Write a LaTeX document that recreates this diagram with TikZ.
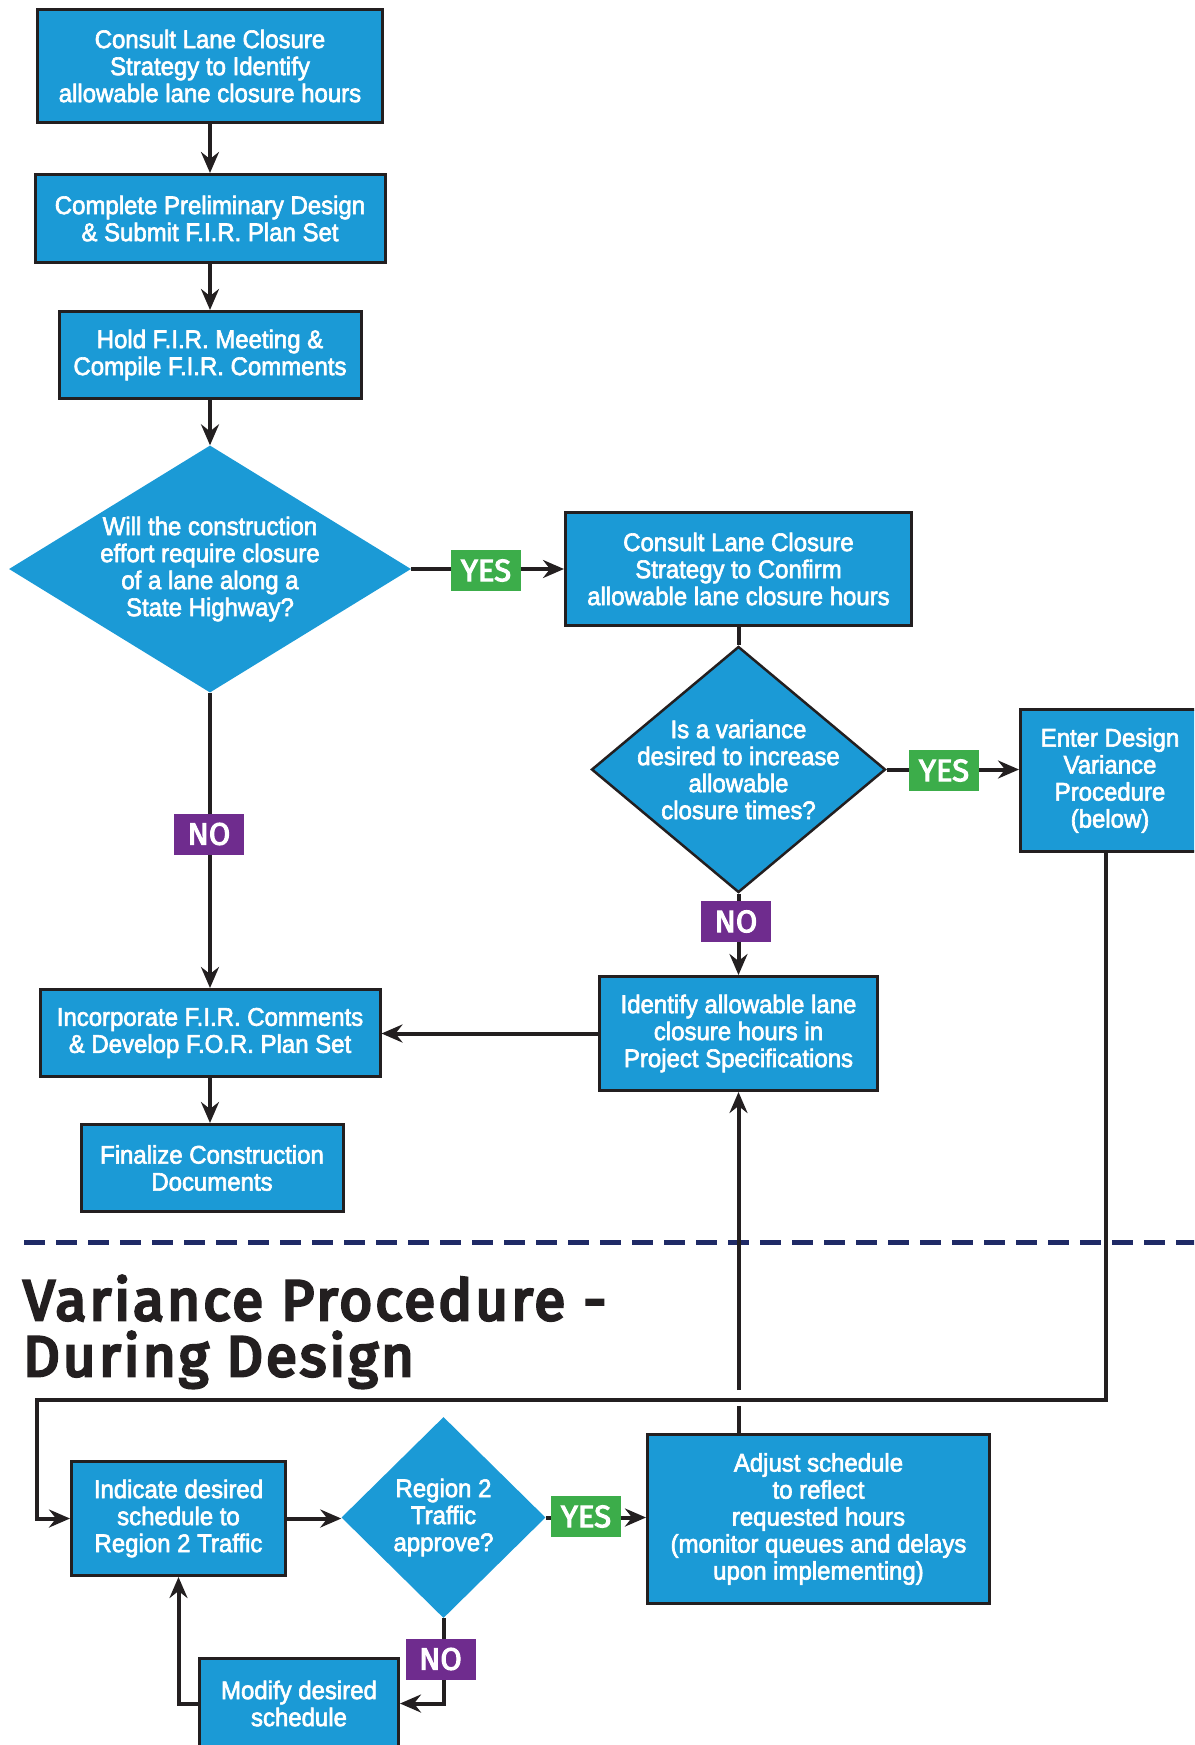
\documentclass[tikz,border=0pt]{standalone}
\usepackage{fontspec}
\setmainfont{Liberation Sans}
\newfontfamily\boxfont{Liberation Sans}[FakeStretch=0.94, FakeBold=2.5]
\newfontfamily\tagfont{Fira Sans}[FakeBold=3.5]
\newfontfamily\headfont{Fira Sans}[FakeBold=5, LetterSpace=5]
\usetikzlibrary{shapes.geometric,arrows.meta,calc}

\definecolor{boxblue}{HTML}{1B9AD6}
\definecolor{edge}{HTML}{231F20}
\definecolor{yesgreen}{HTML}{3CAD4A}
\definecolor{nopurple}{HTML}{6F2C8E}
\definecolor{navy}{HTML}{1F2A66}

\newcommand\boxtext{\boxfont\fontsize{25.5}{27}\selectfont}
\newcommand\tagtext{\tagfont\fontsize{31}{31}\selectfont}
\newcommand\headtext{\headfont\fontsize{57}{57}\selectfont}

\begin{document}
\begin{tikzpicture}[x=1pt,y=-1pt,
  stepbox/.style={draw=edge, line width=3pt, fill=boxblue, text=white,
    font=\boxtext, align=center, inner sep=0pt},
  decision/.style={diamond, fill=boxblue, draw=none, inner sep=0pt},
  qtext/.style={text=white, font=\boxtext, align=center, inner sep=0pt},
  tag/.style={text=white, font=\tagtext, inner sep=0pt,
    minimum width=70pt, minimum height=41pt},
  yestag/.style={tag, fill=yesgreen},
  notag/.style={tag, fill=nopurple},
  conn/.style={draw=edge, line width=4pt},
  arr/.style={conn, -{Stealth[length=21pt,width=18pt,inset=7pt]}},
]
\clip (0,0) rectangle (1194,1745);

% ---- design flow ----
\node[stepbox, minimum width=345pt, minimum height=113pt] (b1) at (210,66)
  {Consult Lane Closure\\Strategy to Identify\\allowable lane closure hours};
\node[stepbox, minimum width=350pt, minimum height=88pt] (b2) at (210,218.5)
  {Complete Preliminary Design\\\& Submit F.I.R. Plan Set};
\node[stepbox, minimum width=302pt, minimum height=87pt] (b3) at (210,355)
  {Hold F.I.R. Meeting \&\\Compile F.I.R. Comments};
\node[decision, minimum width=402pt, minimum height=247pt] (d1) at (210,569) {};
\node[qtext] (d1t) at (d1)
  {Will the construction\\effort require closure\\of a lane along a\\State Highway?};
\node[stepbox, minimum width=346pt, minimum height=113pt] (b4) at (738.5,569)
  {Consult Lane Closure\\Strategy to Confirm\\allowable lane closure hours};
\node[decision, draw=edge, line width=2.5pt, minimum width=294pt, minimum height=246pt] (d2) at (738.5,769.5) {};
\node[qtext] (d2t) at (d2)
  {Is a variance\\desired to increase\\allowable\\closure times?};
\node[stepbox, minimum width=179pt, minimum height=142pt] (b5) at (1110,780.5)
  {Enter Design\\Variance\\Procedure\\(below)};
\node[stepbox, minimum width=278pt, minimum height=114pt] (b6) at (738.5,1033.5)
  {Identify allowable lane\\closure hours in\\Project Specifications};
\node[stepbox, minimum width=340pt, minimum height=87pt] (b7) at (210,1033)
  {Incorporate F.I.R. Comments\\\& Develop F.O.R. Plan Set};
\node[stepbox, minimum width=262pt, minimum height=87pt] (b8) at (212,1168)
  {Finalize Construction\\Documents};

% ---- separator and heading ----
\draw[navy, line width=5pt, dash pattern=on 21pt off 11pt] (24,1242) -- (1200,1242);
\node[anchor=base west, text=edge, font=\headtext, inner sep=0pt] (title1) at (23,1320)
  {Variance Procedure -};
\node[anchor=base west, text=edge, font=\headtext, inner sep=0pt] (title2) at (23,1376)
  {During Design};

% ---- variance procedure ----
\node[stepbox, minimum width=214pt, minimum height=114pt] (b9) at (178.5,1518.5)
  {Indicate desired\\schedule to\\Region 2 Traffic};
\node[decision, minimum width=204pt, minimum height=201pt] (d3) at (443.5,1517.5) {};
\node[qtext] (d3t) at (d3) {Region 2\\Traffic\\approve?};
\node[stepbox, minimum width=342pt, minimum height=169pt] (b10) at (818.5,1519)
  {Adjust schedule\\to reflect\\requested hours\\(monitor queues and delays\\upon implementing)};
\node[stepbox, minimum width=199pt, minimum height=90pt] (b11) at (299,1703.5)
  {Modify desired\\schedule};

% ---- connectors ----
\draw[arr] (b1.south) -- (b2.north);
\draw[arr] (b2.south) -- (b3.north);
\draw[arr] (b3.south) -- (d1.north);
\draw[arr] (d1.east) -- (b4.west);
\draw[arr] (d1.south) -- (b7.north);
\draw[conn] (b4.south) -- (d2.north);
\draw[arr] (d2.east) -- (d2.east -| b5.west);
\draw[arr] (d2.south) -- (b6.north);
\draw[arr] (b6.west) -- (b6.west -| b7.east);
\draw[arr] (b7.south) -- (b7.south |- b8.north);

\coordinate (loopR) at (1106,1400);
\coordinate (loopL) at (37,1400);
\draw[arr] (b5.south -| loopR) -- (loopR) -- (loopL) |- (b9.west);
\coordinate (xing) at (b6.south |- loopL);
\draw[conn] (b10.north -| xing) -- ([yshift=-6pt]xing);
\draw[arr] ([yshift=10pt]xing) -- (b6.south);

\draw[arr] (b9.east) -- (b9.east -| d3.west);
\draw[arr] (d3.east) -- (d3.east -| b10.west);
\draw[arr] (d3.south) |- (b11.east);
\draw[arr] (b11.west) -| (b9.south);

% ---- answer tags ----
\node[yestag] (yes1) at (486,570.5) {YES};
\node[yestag] (yes2) at (944,770.5) {YES};
\node[yestag] (yes3) at (586,1516.5) {YES};
\node[notag] (no1) at (209,834) {NO};
\node[notag] (no2) at (736,921.5) {NO};
\node[notag] (no3) at (440.5,1659) {NO};
\end{tikzpicture}
\end{document}
